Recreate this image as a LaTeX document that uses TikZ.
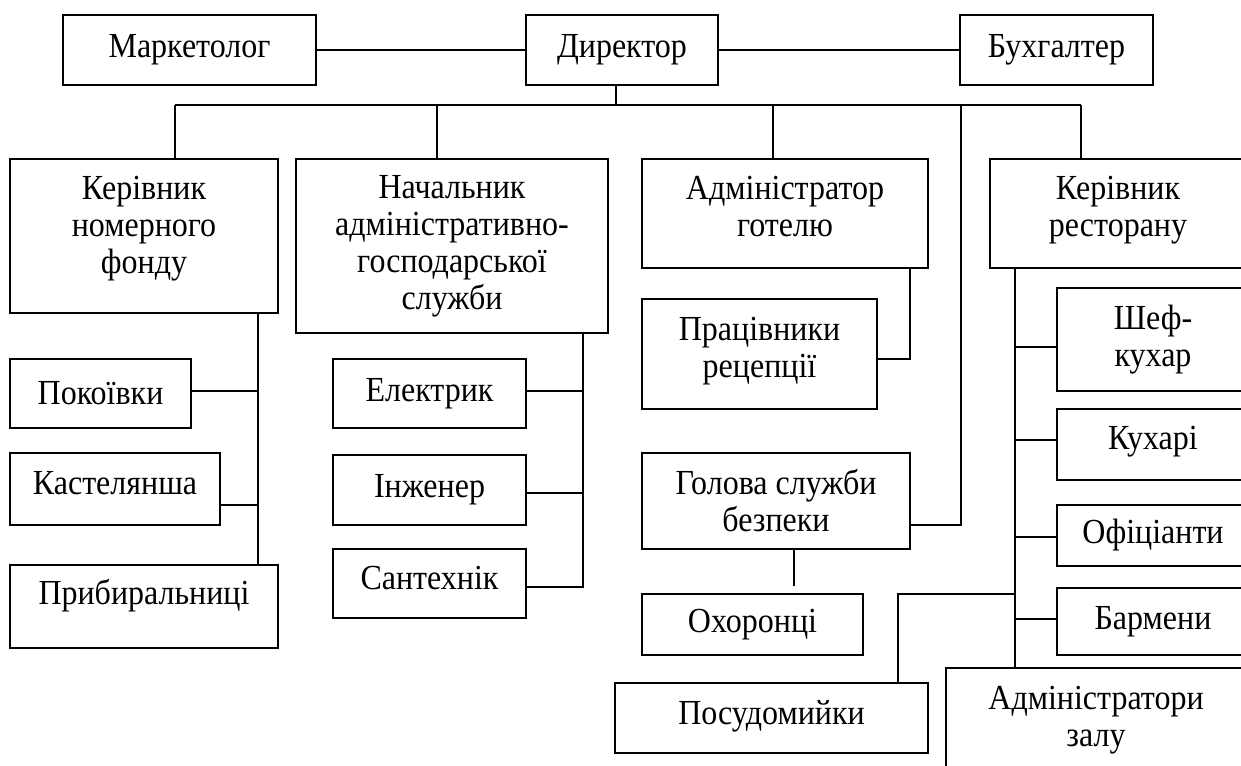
\documentclass[tikz,border=0pt]{standalone}
\usepackage{fontspec}
\usepackage{graphicx}
\setmainfont{Liberation Serif}
\newcommand\vst[1]{\scalebox{1}[1.1]{#1}}
\begin{document}
\begin{tikzpicture}[x=1pt,y=-1pt,
  box/.style={draw,line width=2pt,rectangle,align=center,inner sep=0pt,
    font=\fontsize{32}{37}\selectfont},
  conn/.style={line width=2pt}]
\useasboundingbox (0,0) rectangle (1241,765);
\fill[white] (0,0) rectangle (1241,765);
\clip (0,0) rectangle (1241,765);
% top row
\node[box,minimum width=253pt,minimum height=70pt] (mark) at (189.5,50) {\vst{Маркетолог}};
\node[box,minimum width=192pt,minimum height=70pt] (dir) at (622,50) {\vst{Директор}};
\node[box,minimum width=193pt,minimum height=70pt] (buh) at (1056.5,50) {\vst{Бухгалтер}};
% second row
\node[box,minimum width=268pt,minimum height=154pt,text depth=22pt] (kf) at (144,236) {\vst{Керівник}\\\vst{номерного}\\\vst{фонду}};
\node[box,minimum width=312pt,minimum height=174pt] (nach) at (452,246) {\vst{Начальник}\\\vst{адміністративно-}\\\vst{господарської}\\\vst{служби}};
\node[box,minimum width=286pt,minimum height=109pt,text depth=14pt] (adm) at (785,213.5) {\vst{Адміністратор}\\\vst{готелю}};
\node[box,minimum width=256pt,minimum height=109pt,text depth=14pt] (kr) at (1118,213.5) {\vst{Керівник}\\\vst{ресторану}};
% column 1
\node[box,minimum width=181pt,minimum height=69pt] (pok) at (100.5,393.5) {\vst{Покоївки}};
\node[box,minimum width=210pt,minimum height=72pt,text depth=12pt] (kas) at (115,489) {\vst{Кастелянша}};
\node[box,minimum width=268pt,minimum height=83pt,text height=25pt,text depth=29pt] (prib) at (144,606.5) {\vst{Прибиральниці}};
% column 2
\node[box,minimum width=193pt,minimum height=69pt] (el) at (429.5,393.5) {\vst{Електрик}};
\node[box,minimum width=193pt,minimum height=70pt] (inzh) at (429.5,490) {\vst{Інженер}};
\node[box,minimum width=193pt,minimum height=69pt,text depth=12pt] (sant) at (429.5,583.5) {\vst{Сантехнік}};
% column 3
\node[box,minimum width=235pt,minimum height=110pt,text depth=14pt] (prac) at (759.5,354) {\vst{Працівники}\\\vst{рецепції}};
\node[box,minimum width=268pt,minimum height=96pt] (hol) at (776,501) {\vst{Голова служби}\\\vst{безпеки}};
\node[box,minimum width=221pt,minimum height=61pt] (ohor) at (752.5,624.5) {\vst{Охоронці}};
\node[box,minimum width=313pt,minimum height=70pt,text depth=12pt] (posud) at (771.5,718) {\vst{Посудомийки}};
% column 4
\node[box,minimum width=192pt,minimum height=103pt] (shef) at (1153,339.5) {\vst{Шеф-}\\\vst{кухар}};
\node[box,minimum width=192pt,minimum height=71pt,text depth=14pt] (kuh) at (1153,444.5) {\vst{Кухарі}};
\node[box,minimum width=192pt,minimum height=61pt] (ofic) at (1153,535.5) {\vst{Офіціанти}};
\node[box,minimum width=192pt,minimum height=67pt] (barm) at (1153,621.5) {\vst{Бармени}};
\node[box,minimum width=300pt,minimum height=104pt] (azal) at (1096,720) {\vst{Адміністратори}\\\vst{залу}};
% helper coordinates
\coordinate (busL) at (175,105);
\coordinate (busR) at (1081,105);
\coordinate (b2) at (437,105);
\coordinate (b3) at (773,105);
\coordinate (b4) at (961,105);
\coordinate (kfv) at (258,0);
\coordinate (nv) at (583,0);
\coordinate (av) at (910,0);
\coordinate (rv) at (1015,0);
\coordinate (pj) at (1015,594);
% connectors
\draw[conn] (mark) -- (dir);
\draw[conn] (dir) -- (buh);
\draw[conn] ([xshift=-6pt]dir.south) -- ([xshift=-6pt]dir.south |- busL);
\draw[conn] (busL) -- (busR);
\draw[conn] (busL) -- (busL |- kf.north);
\draw[conn] (b2) -- (b2 |- nach.north);
\draw[conn] (b3) -- (b3 |- adm.north);
\draw[conn] (busR) -- (busR |- kr.north);
\draw[conn] (b4) |- ([yshift=-24pt]hol.east);
% column 1
\draw[conn] (kfv |- kf.south) -- (kfv |- prib.north);
\draw[conn] ([yshift=3pt]pok.east) -- ([yshift=3pt]pok.east -| kfv);
\draw[conn] ([yshift=-16pt]kas.east) -- ([yshift=-16pt]kas.east -| kfv);
% column 2
\draw[conn] (nv |- nach.south) |- ([yshift=-3.5pt]sant.east);
\draw[conn] ([yshift=3pt]el.east) -- ([yshift=3pt]el.east -| nv);
\draw[conn] ([yshift=-3pt]inzh.east) -- ([yshift=-3pt]inzh.east -| nv);
% column 3
\draw[conn] (av |- adm.south) |- ([yshift=-5pt]prac.east);
\draw[conn,shorten >=7pt] ([xshift=18pt]hol.south) -- ([xshift=18pt]hol.south |- ohor.north);
% column 4
\draw[conn] (rv |- kr.south) -- (rv |- azal.north);
\draw[conn] ([yshift=-7.5pt]shef.west) -- ([yshift=-7.5pt]shef.west -| rv);
\draw[conn] ([yshift=4.5pt]kuh.west) -- ([yshift=4.5pt]kuh.west -| rv);
\draw[conn] ([yshift=-1.5pt]ofic.west) -- ([yshift=-1.5pt]ofic.west -| rv);
\draw[conn] ([yshift=2.5pt]barm.west) -- ([yshift=2.5pt]barm.west -| rv);
\draw[conn] (pj) -| ([xshift=126.5pt]posud.north);
\end{tikzpicture}
\end{document}
